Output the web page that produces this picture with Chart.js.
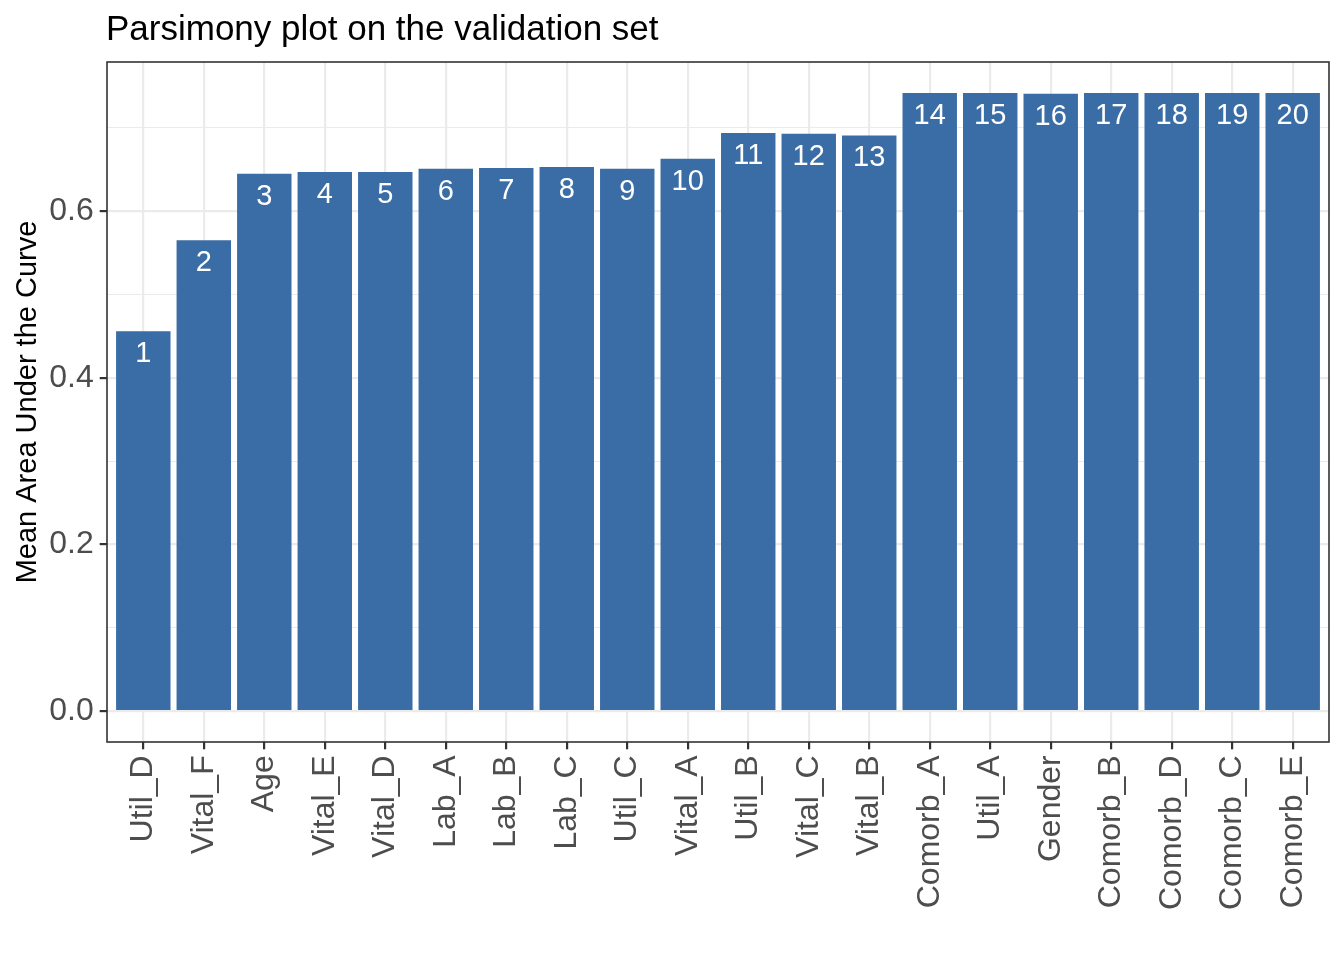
<!DOCTYPE html>
<html>
<head>
<meta charset="utf-8">
<script src="https://cdn.jsdelivr.net/npm/chart.js@4.4.1/dist/chart.umd.min.js"></script>
<style>
  html, body { margin: 0; padding: 0; background: #ffffff; }
  #wrap { width: 1344px; height: 960px; }
  canvas { display: block; }
</style>
</head>
<body>
<div id="wrap"><canvas id="c" width="1344" height="960"></canvas></div>
<script>
// ---- data ----
const chartTitle = 'Parsimony plot on the validation set';
const yAxisTitle = 'Mean Area Under the Curve';
const features = ['Util_D','Vital_F','Age','Vital_E','Vital_D','Lab_A','Lab_B','Lab_C','Util_C','Vital_A',
                  'Util_B','Vital_C','Vital_B','Comorb_A','Util_A','Gender','Comorb_B','Comorb_D','Comorb_C','Comorb_E'];
const meanAUC = [0.456, 0.565, 0.645, 0.647, 0.647, 0.651, 0.652, 0.653, 0.651, 0.663,
                 0.694, 0.693, 0.691, 0.742, 0.742, 0.741, 0.742, 0.742, 0.742, 0.742];
const rankLabels = ['1','2','3','4','5','6','7','8','9','10','11','12','13','14','15','16','17','18','19','20'];
const yMajorTicks = [0, 0.2, 0.4, 0.6];
const yTickLabels = ['0.0', '0.2', '0.4', '0.6'];
const yMinorTicks = [0.1, 0.3, 0.5, 0.7];

// ---- style ----
const FONT = "'Liberation Sans', Arial, Helvetica, sans-serif";
const BAR = '#3A6DA5';
const GRID = '#EBEBEB';
const DARK = '#333333';

// ggplot-like scale expansion
const yDataMax = Math.max(...meanAUC);
const yExpand = yDataMax * 0.05;
const xExpand = 0.6;

const isMajor = v => yMajorTicks.includes(v);
const points = features.map((f, i) => ({ x: i + 1, y: meanAUC[i] }));

const titlePlugin = {
  id: 'ggTitle',
  afterDraw(chart) {
    const ctx = chart.ctx;
    ctx.save();
    ctx.fillStyle = '#000000';
    ctx.font = '35px ' + FONT;
    ctx.textAlign = 'left';
    ctx.textBaseline = 'alphabetic';
    ctx.fillText(chartTitle, chart.chartArea.left - 1, 40);
    ctx.restore();
  }
};

const barLabelPlugin = {
  id: 'barLabels',
  afterDatasetsDraw(chart) {
    const ctx = chart.ctx;
    const meta = chart.getDatasetMeta(0);
    ctx.save();
    ctx.fillStyle = '#ffffff';
    ctx.font = '29px ' + FONT;
    ctx.textAlign = 'center';
    ctx.textBaseline = 'middle';
    meta.data.forEach((bar, i) => {
      ctx.fillText(rankLabels[i], bar.x, bar.y + 23);
    });
    ctx.restore();
  }
};

const borderPlugin = {
  id: 'panelBorder',
  afterDatasetsDraw(chart) {
    const {left, top, right, bottom} = chart.chartArea;
    const ctx = chart.ctx;
    ctx.save();
    ctx.strokeStyle = DARK;
    ctx.lineWidth = 1.6;
    ctx.strokeRect(left, top, right - left, bottom - top);
    ctx.restore();
  }
};

new Chart(document.getElementById('c'), {
  type: 'bar',
  data: {
    datasets: [{
      data: points,
      backgroundColor: BAR,
      borderWidth: 0,
      barPercentage: 0.9,
      categoryPercentage: 1.0
    }]
  },
  options: {
    responsive: false,
    devicePixelRatio: 1,
    animation: false,
    layout: { padding: { top: 62, right: 15, bottom: 0, left: 0 } },
    plugins: {
      legend: { display: false },
      tooltip: { enabled: false },
      title: { display: false }
    },
    scales: {
      x: {
        type: 'linear',
        min: 1 - xExpand,
        max: features.length + xExpand,
        offset: false,
        border: { display: false },
        afterBuildTicks(scale) {
          scale.ticks = features.map((f, i) => ({ value: i + 1 }));
        },
        grid: {
          offset: false,
          color: GRID,
          lineWidth: 2.2,
          drawTicks: true,
          tickLength: 7.3,
          tickColor: DARK,
          tickWidth: 2.2
        },
        ticks: {
          autoSkip: false,
          minRotation: 90,
          maxRotation: 90,
          padding: 6,
          color: '#4D4D4D',
          font: { family: FONT, size: 32 },
          callback: (v, i) => features[i]
        },
        afterFit(scale) { scale.height = 218; }
      },
      y: {
        type: 'linear',
        min: -yExpand,
        max: yDataMax + yExpand,
        border: { display: false },
        afterBuildTicks(scale) {
          scale.ticks = yMajorTicks.concat(yMinorTicks).sort((a, b) => a - b).map(v => ({ value: v }));
        },
        grid: {
          color: GRID,
          lineWidth: ctx => (ctx.tick && isMajor(ctx.tick.value)) ? 2.2 : 1.1,
          drawTicks: true,
          tickLength: 7.3,
          tickColor: ctx => (ctx.tick && isMajor(ctx.tick.value)) ? DARK : 'rgba(0,0,0,0)',
          tickWidth: 2.2
        },
        ticks: {
          padding: 6,
          color: '#4D4D4D',
          font: { family: FONT, size: 32 },
          callback: (v) => {
            const i = yMajorTicks.indexOf(v);
            return i >= 0 ? yTickLabels[i] : '';
          }
        },
        title: {
          display: true,
          text: yAxisTitle,
          color: '#000000',
          font: { family: FONT, size: 29, lineHeight: 1.2 },
          padding: { top: 10.6, bottom: 0 }
        },
        afterFit(scale) { scale.width = 107; }
      }
    }
  },
  plugins: [titlePlugin, barLabelPlugin, borderPlugin]
});
</script>
</body>
</html>
